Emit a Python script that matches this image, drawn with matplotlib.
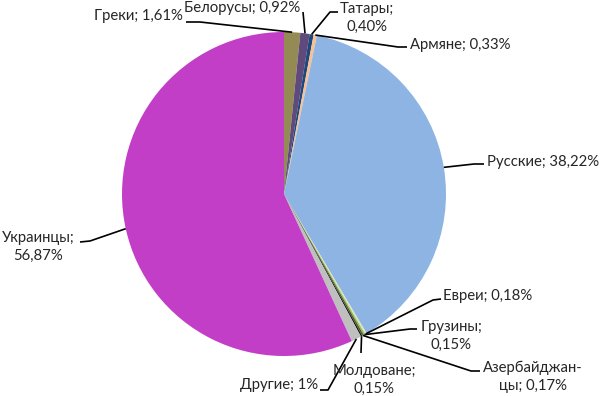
import numpy as np
import matplotlib
matplotlib.use("Agg")
import matplotlib.pyplot as plt


# data (clockwise from the top)
nations = ["Греки", "Белорусы", "Татары", "Армяне", "Русские", "Евреи",
           "Грузины", "Азербайджанцы", "Молдоване", "Другие", "Украинцы"]
shares = [1.61, 0.92, 0.40, 0.33, 38.22, 0.18, 0.15, 0.17, 0.15, 1.0, 56.87]
label_texts = ["Греки; 1,61%", "Белорусы; 0,92%", "Татары;\n0,40%",
               "Армяне; 0,33%", "Русские; 38,22%", "Евреи; 0,18%",
               "Грузины;\n0,15%", "Азербайджан-\nцы; 0,17%",
               "Молдоване;\n0,15%", "Другие; 1%", "Украинцы;\n56,87%"]

colors = ["#948A54", "#604A7B", "#1F497D", "#FAC090", "#8EB4E3", "#D7E4BD",
          "#9BBB59", "#4F6228", "#1A1A1A", "#BFBFBF", "#C23EC6"]

W, H = 600, 396
CX, CY, R = 284, 194, 162  # pixel coords (y from top)

# label layout in pixel coords: text pos, ha, leader points from text to pie
layout = [
    ((183, 16), "right", [(186, 22), (200, 22)]),
    ((300, 8), "right", [(303, 12)]),
    ((367, 18), "center", [(338, 12), (330, 12)]),
    ((410, 45), "left", [(407, 47), (398, 47)]),
    ((487, 162), "left", [(484, 164), (474, 164)]),
    ((443, 296), "left", [(441, 299), (433, 300)]),
    ((451, 336), "center", [(417, 329), (410, 329)]),
    ((533, 377), "center", [(480, 371), (471, 371)]),
    ((374, 380), "center", [(361, 353)]),
    ((318, 385), "right", [(320, 390), (328, 390)]),
    ((38, 247), "center", [(80, 242), (90, 241)]),
]


def py(y):
    return H - y


plt.rcParams["font.family"] = ["Lato", "DejaVu Sans"]

fig = plt.figure(figsize=(W / 100, H / 100), dpi=100)
ax = fig.add_axes([0, 0, 1, 1])

wedges, _ = ax.pie(shares, colors=colors, startangle=90, counterclock=False,
                   center=(CX, py(CY)), radius=R, frame=True,
                   wedgeprops=dict(linewidth=0))
ax.set_xlim(0, W)
ax.set_ylim(0, H)
ax.set_aspect("equal")
ax.axis("off")

for w, text, (tpos, ha, pts) in zip(wedges, label_texts, layout):
    ang = np.deg2rad((w.theta1 + w.theta2) / 2)
    ax_x = CX + R * np.cos(ang)
    ax_y = py(CY) + R * np.sin(ang)
    xs = [p[0] for p in pts] + [ax_x]
    ys = [py(p[1]) for p in pts] + [ax_y]
    ax.plot(xs, ys, color="black", lw=1.2, solid_capstyle="butt")
    ax.text(tpos[0], py(tpos[1]), text, ha=ha, va="center",
            multialignment="center", fontsize=10.7, color="#262626",
            linespacing=1.3)

fig.savefig("out.png", dpi=100)
